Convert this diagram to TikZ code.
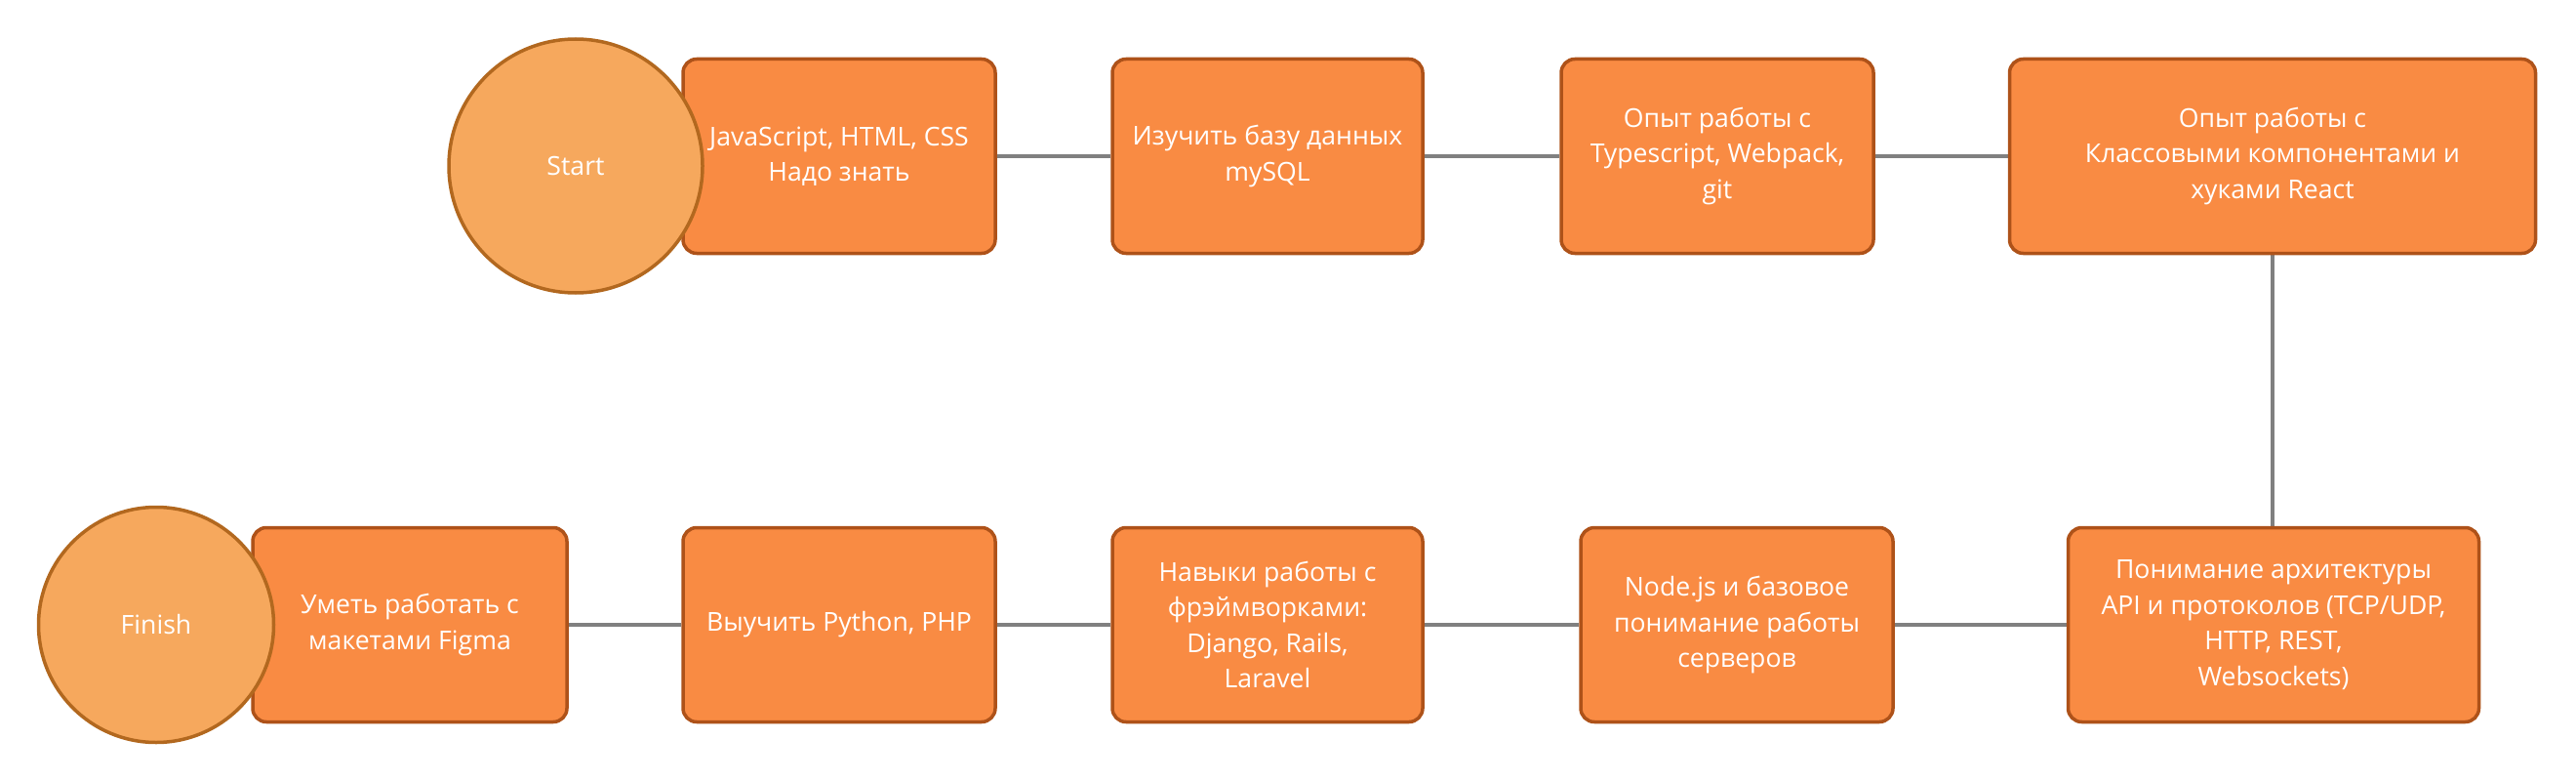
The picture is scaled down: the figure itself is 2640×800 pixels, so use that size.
\documentclass[tikz,border=0pt]{standalone}
\usepackage{fontspec}
\setmainfont{Open Sans}
\usetikzlibrary{backgrounds}
\definecolor{boxfill}{HTML}{F98B43}
\definecolor{boxdraw}{HTML}{AE5219}
\definecolor{circfill}{HTML}{F6A85D}
\definecolor{circdraw}{HTML}{B2681F}
\definecolor{linkgray}{HTML}{808080}
\begin{document}
\begin{tikzpicture}[x=1pt,y=-1pt,
  box/.style={draw=boxdraw, fill=boxfill, line width=3.5pt, rounded corners=14pt,
    minimum height=199pt, inner sep=0pt, align=center, text=white,
    font=\fontsize{26.6}{36.5}\selectfont},
  endpt/.style={circle, draw=circdraw, fill=circfill, line width=3.5pt, inner sep=0pt,
    text=white, font=\fontsize{26.6}{36.5}\selectfont},
  link/.style={draw=linkgray, line width=4pt}]
\useasboundingbox (0,0) rectangle (2640,800);
% top row
\node[box, minimum width=320pt] (b1) at (860,160) {JavaScript, HTML, CSS\\Надо знать};
\node[box, minimum width=318pt] (b2) at (1299,160) {Изучить базу данных\\mySQL};
\node[box, minimum width=320pt] (b3) at (1760,160) {Опыт работы с\\Typescript, Webpack,\\git};
\node[box, minimum width=539pt] (b4) at (2329,160) {Опыт работы с\\Классовыми компонентами и\\хуками React};
% bottom row
\node[box, minimum width=322pt] (b5) at (420,640) {Уметь работать с\\макетами Figma};
\node[box, minimum width=320pt] (b6) at (860,640) {Выучить Python, PHP};
\node[box, minimum width=318pt] (b7) at (1299,640) {Навыки работы с\\фрэймворками:\\Django, Rails,\\Laravel};
\node[box, minimum width=320pt] (b8) at (1780,640) {Node.js и базовое\\понимание работы\\серверов};
\node[box, minimum width=421pt] (b9) at (2330,640) {Понимание архитектуры\\API и протоколов (TCP/UDP,\\HTTP, REST,\\Websockets)};
% start / finish
\node[endpt, minimum size=260pt] (start) at (590,170) {Start};
\node[endpt, minimum size=241pt] (finish) at (160,640) {Finish};
% connectors
\begin{scope}[on background layer]
\draw[link] (b1.east) -- (b2.west);
\draw[link] (b2.east) -- (b3.west);
\draw[link] (b3.east) -- (b4.west);
\draw[link] (b4.south) -- (b4.south |- b9.north);
\draw[link] (b9.west) -- (b8.east);
\draw[link] (b8.west) -- (b7.east);
\draw[link] (b7.west) -- (b6.east);
\draw[link] (b6.west) -- (b5.east);
\end{scope}
\end{tikzpicture}
\end{document}
